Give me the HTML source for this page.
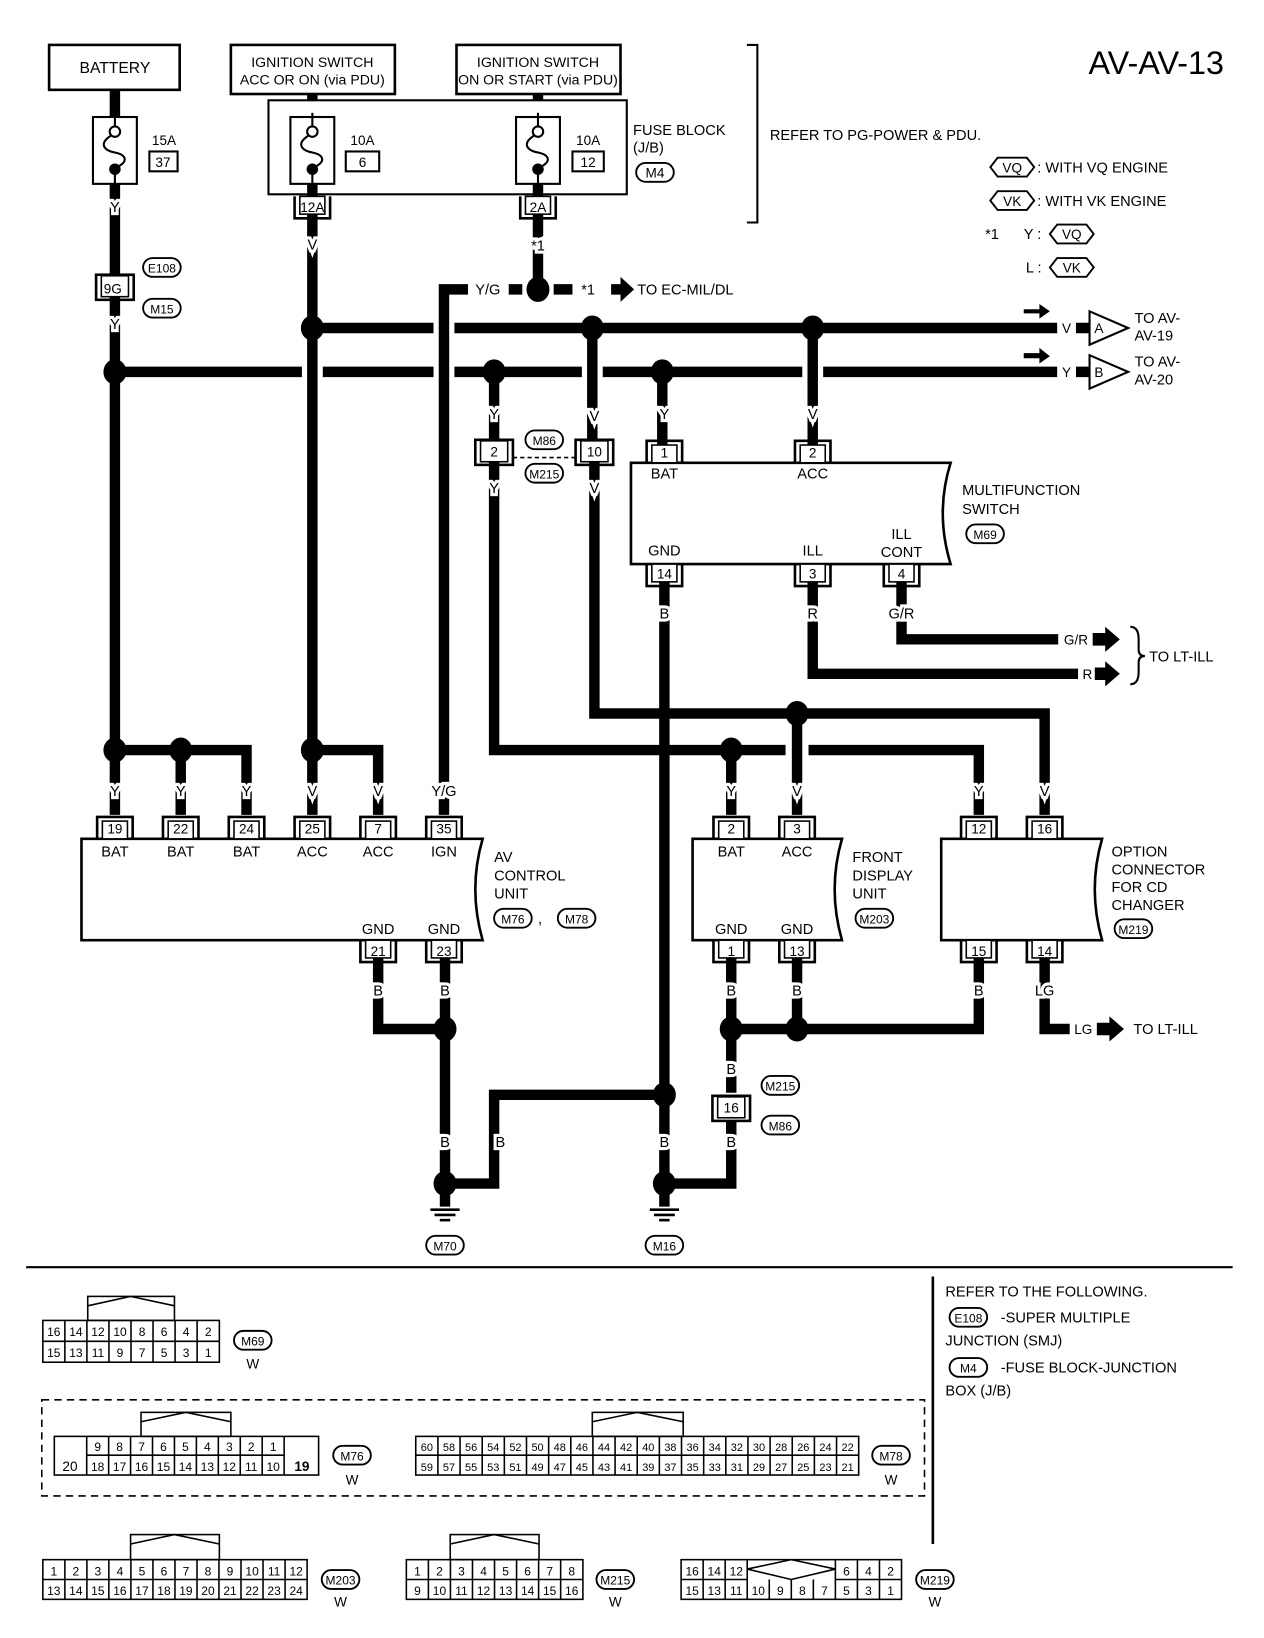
<!DOCTYPE html>
<html><head><meta charset="utf-8"><style>
html,body{margin:0;padding:0;background:#fff;}
svg{display:block;}
text{font-family:"Liberation Sans",sans-serif;fill:#000;}
.l{font-size:14px;text-anchor:middle;stroke:#fff;stroke-width:6px;paint-order:stroke;}
.t{font-size:14px;}
.n{font-size:13px;text-anchor:middle;}
.c{font-size:11.5px;text-anchor:middle;}
.w{stroke:#000;stroke-width:10;fill:none;}
.thin{stroke:#000;stroke-width:2;fill:none;}
</style></head><body>
<svg width="1264" height="1638" viewBox="0 0 1210 1568" preserveAspectRatio="none" xmlns="http://www.w3.org/2000/svg">
<defs>
<g id="ct"><path d="M-17,0V-21H17V0" fill="none" stroke="#000" stroke-width="2.5"/><rect x="-12" y="-17" width="24" height="17" fill="#fff" stroke="#000" stroke-width="1.5"/></g>
<g id="cb"><path d="M-17,0V21H17V0" fill="none" stroke="#000" stroke-width="2.5"/><rect x="-12" y="0" width="24" height="17" fill="#fff" stroke="#000" stroke-width="1.5"/></g>
<g id="cbox"><rect x="-18" y="-11" width="36" height="24" fill="none" stroke="#000" stroke-width="2.5"/><rect x="-13" y="-10" width="26" height="20" fill="#fff" stroke="#000" stroke-width="1.5"/></g>
<g id="ov"><rect x="-18" y="-9" width="36" height="18" rx="9" fill="#fff" stroke="#000" stroke-width="1.8"/></g>
<g id="hx"><polygon points="-21,0 -14,-9 14,-9 21,0 14,9 -14,9" fill="#fff" stroke="#000" stroke-width="1.8"/></g>
<g id="dot"><ellipse rx="11" ry="12" fill="#000"/></g>
<g id="fuse"><rect x="-21" y="0" width="42" height="64" fill="#fff" stroke="#000" stroke-width="2"/><line x1="0" y1="-4" x2="0" y2="10" stroke="#000" stroke-width="2"/><line x1="0" y1="54" x2="0" y2="68" stroke="#000" stroke-width="2"/><circle cx="0" cy="14" r="5" fill="#fff" stroke="#000" stroke-width="2"/><circle cx="0" cy="50" r="5.5" fill="#000"/><path d="M-4,18 C-16,26 -10,32 0,34 C10,36 14,42 2,48" fill="none" stroke="#000" stroke-width="2"/></g>
<g id="gnd"><line x1="-14" y1="0" x2="14" y2="0" stroke="#000" stroke-width="2.5"/><line x1="-10" y1="5" x2="10" y2="5" stroke="#000" stroke-width="2.5"/><line x1="-5" y1="10" x2="5" y2="10" stroke="#000" stroke-width="2.5"/></g>
</defs>

<text x="1042" y="71" style="font-size:31px">AV-AV-13</text>

<rect x="47" y="43" width="125" height="43" fill="#fff" stroke="#000" stroke-width="2.5"/>
<text x="110" y="70" class="n" style="font-size:15px">BATTERY</text>
<rect x="221" y="43" width="157" height="47" fill="#fff" stroke="#000" stroke-width="2.5"/>
<text x="299" y="64" class="n" style="font-size:13.5px">IGNITION SWITCH</text>
<text x="299" y="81" class="n" style="font-size:13.5px">ACC OR ON (via PDU)</text>
<rect x="437" y="43" width="157" height="47" fill="#fff" stroke="#000" stroke-width="2.5"/>
<text x="515" y="64" class="n" style="font-size:13.5px">IGNITION SWITCH</text>
<text x="515" y="81" class="n" style="font-size:13.5px">ON OR START (via PDU)</text>

<rect x="257" y="96" width="343" height="90" fill="none" stroke="#000" stroke-width="2"/>
<path class="w" d="M110,86V112M299,90V96M515,90V96"/>
<use href="#fuse" x="110" y="112"/>
<use href="#fuse" x="299" y="112"/>
<use href="#fuse" x="515" y="112"/>
<text x="157" y="139" class="n">15A</text><rect x="143" y="145" width="27" height="19" fill="none" stroke="#000" stroke-width="2"/><text x="156" y="160" class="n">37</text>
<text x="347" y="139" class="n">10A</text><rect x="331" y="145" width="32" height="19" fill="none" stroke="#000" stroke-width="2"/><text x="347" y="160" class="n">6</text>
<text x="563" y="139" class="n">10A</text><rect x="548" y="145" width="30" height="19" fill="none" stroke="#000" stroke-width="2"/><text x="563" y="160" class="n">12</text>
<text x="606" y="129" class="t">FUSE BLOCK</text>
<text x="606" y="146" class="t">(J/B)</text>
<use href="#ov" x="627" y="165"/><text x="627" y="170" class="n">M4</text>
<path class="thin" d="M715,43H725V213H715"/>
<text x="737" y="134" class="t">REFER TO PG-POWER &amp; PDU.</text>

<use href="#hx" x="969" y="160"/><text x="969" y="165" class="n">VQ</text><text x="993" y="165" class="t">: WITH VQ ENGINE</text>
<use href="#hx" x="969" y="192"/><text x="969" y="197" class="n">VK</text><text x="993" y="197" class="t">: WITH VK ENGINE</text>
<text x="943" y="229" class="t">*1</text><text x="980" y="229" class="t">Y :</text><use href="#hx" x="1026" y="224"/><text x="1026" y="229" class="n">VQ</text>
<text x="982" y="261" class="t">L :</text><use href="#hx" x="1026" y="256"/><text x="1026" y="261" class="n">VK</text>

<path class="w" d="M110,176V356M110,356V780M299,176V718M299,718V780M515,176V277"/>
<path class="w" d="M110,718H236V780M299,718H362V780"/>
<path class="w" d="M173,718V780"/>
<path class="w" d="M425,780V277H448M487,277H500M530,277H548"/>
<path class="w" d="M299,314H415M435,314H1012M1030,314H1045"/>
<path class="w" d="M120,356H289M309,356H415M435,356H557M577,356H768M788,356H1012M1030,356H1045"/>
<path class="w" d="M567,314V422M569,442V683H1000V780M763,683V780"/>
<path class="w" d="M473,356V422M473,442V718H752M774,718H937V780M700,718V780"/>
<path class="w" d="M634,356V443M778,314V443"/>
<path class="w" d="M636,540V1133M778,540V645H1032M863,540V612H1013"/>
<path class="w" d="M362,900V985H425M426,900V1155"/>
<path class="w" d="M426,1133H473V1048H636M636,1133H700V1073M700,1046V985M700,900V985H937V900M763,900V985"/>
<path class="w" d="M636,1133V1155M1000,900V985H1024"/>

<use href="#cb" x="299" y="188"/><text x="299" y="203" class="n">12A</text>
<use href="#cb" x="515" y="188"/><text x="515" y="203" class="n">2A</text>
<use href="#cbox" x="110" y="274"/><text x="108" y="281" class="n">9G</text>
<use href="#ov" x="155" y="256"/><text x="155" y="261" class="c">E108</text>
<use href="#ov" x="155" y="295"/><text x="155" y="300" class="c">M15</text>

<text x="110" y="203" class="l">Y</text>
<text x="110" y="315" class="l">Y</text>
<text x="299" y="239" class="l">V</text>
<text x="515" y="240" class="l">*1</text>
<text x="467" y="282" class="t" style="text-anchor:middle">Y/G</text>
<text x="563" y="282" class="n" style="font-size:14px">*1</text>
<polygon points="585,272 594,272 594,265 607,277 594,289 594,282 585,282"/>
<text x="610" y="282" class="t">TO EC-MIL/DL</text>
<use href="#dot" x="515" y="277"/>
<use href="#dot" x="299" y="314"/><use href="#dot" x="567" y="314"/><use href="#dot" x="778" y="314"/>
<use href="#dot" x="110" y="356"/><use href="#dot" x="473" y="356"/><use href="#dot" x="634" y="356"/>

<polygon points="980,296 995,296 995,291 1005,298 995,305 995,300 980,300"/>
<polygon points="980,338 995,338 995,333 1005,341 995,348 995,343 980,343"/>
<text x="1021" y="319" class="n">V</text><text x="1021" y="361" class="n">Y</text>
<polygon points="1043,298 1043,330 1080,314" fill="#fff" stroke="#000" stroke-width="2"/><text x="1052" y="319" class="n">A</text>
<polygon points="1043,340 1043,372 1080,356" fill="#fff" stroke="#000" stroke-width="2"/><text x="1052" y="361" class="n">B</text>
<text x="1086" y="309" class="t">TO AV-</text><text x="1086" y="326" class="t">AV-19</text>
<text x="1086" y="351" class="t">TO AV-</text><text x="1086" y="368" class="t">AV-20</text>

<text x="473" y="401" class="l">Y</text><text x="569" y="403" class="l">V</text>
<text x="636" y="401" class="l">Y</text><text x="778" y="401" class="l">V</text>
<use href="#cbox" x="473" y="432"/><text x="473" y="437" class="n">2</text>
<use href="#cbox" x="569" y="432"/><text x="569" y="437" class="n">10</text>
<path d="M491,438H551" stroke="#000" stroke-width="1.5" stroke-dasharray="4,3"/>
<use href="#ov" x="521" y="421"/><text x="521" y="426" class="c">M86</text>
<use href="#ov" x="521" y="453"/><text x="521" y="458" class="c">M215</text>
<text x="473" y="472" class="l">Y</text><text x="569" y="472" class="l">V</text>

<path d="M604,443H910Q895,491 910,540H604Z" fill="#fff" stroke="#000" stroke-width="2.5"/>
<use href="#ct" x="636" y="443"/><text x="636" y="438" class="n">1</text>
<use href="#ct" x="778" y="443"/><text x="778" y="438" class="n">2</text>
<text x="636" y="458" class="n" style="font-size:14px">BAT</text><text x="778" y="458" class="n" style="font-size:14px">ACC</text>
<text x="921" y="474" class="t">MULTIFUNCTION</text><text x="921" y="492" class="t">SWITCH</text>
<use href="#ov" x="943" y="511"/><text x="943" y="516" class="c">M69</text>
<text x="636" y="532" class="n" style="font-size:14px">GND</text><text x="778" y="532" class="n" style="font-size:14px">ILL</text>
<text x="863" y="516" class="n" style="font-size:14px">ILL</text><text x="863" y="533" class="n" style="font-size:14px">CONT</text>
<use href="#cb" x="636" y="540"/><text x="636" y="554" class="n">14</text>
<use href="#cb" x="778" y="540"/><text x="778" y="554" class="n">3</text>
<use href="#cb" x="863" y="540"/><text x="863" y="554" class="n">4</text>
<text x="636" y="592" class="l">B</text><text x="778" y="592" class="l">R</text><text x="863" y="592" class="l">G/R</text>
<text x="1030" y="617" class="n">G/R</text><polygon points="1046,606 1058,606 1058,600 1072,612 1058,624 1058,618 1046,618"/>
<text x="1041" y="650" class="n">R</text><polygon points="1048,639 1058,639 1058,633 1072,645 1058,657 1058,651 1048,651"/>
<path class="thin" d="M1082,600Q1090,600 1090,612V622Q1090,628 1096,628Q1090,628 1090,634V643Q1090,655 1082,655"/>
<text x="1100" y="633" class="t">TO LT-ILL</text>

<use href="#dot" x="763" y="683"/>
<use href="#dot" x="110" y="718"/><use href="#dot" x="173" y="718"/><use href="#dot" x="299" y="718"/><use href="#dot" x="700" y="718"/>

<text x="110" y="762" class="l">Y</text><text x="173" y="762" class="l">Y</text><text x="236" y="762" class="l">Y</text>
<text x="299" y="762" class="l">V</text><text x="362" y="762" class="l">V</text><text x="425" y="762" class="l">Y/G</text>
<path d="M78,803H462Q448,851 462,900H78Z" fill="#fff" stroke="#000" stroke-width="2.5"/>
<use href="#ct" x="110" y="803"/><text x="110" y="798" class="n">19</text>
<use href="#ct" x="173" y="803"/><text x="173" y="798" class="n">22</text>
<use href="#ct" x="236" y="803"/><text x="236" y="798" class="n">24</text>
<use href="#ct" x="299" y="803"/><text x="299" y="798" class="n">25</text>
<use href="#ct" x="362" y="803"/><text x="362" y="798" class="n">7</text>
<use href="#ct" x="425" y="803"/><text x="425" y="798" class="n">35</text>
<text x="110" y="820" class="n" style="font-size:14px">BAT</text><text x="173" y="820" class="n" style="font-size:14px">BAT</text><text x="236" y="820" class="n" style="font-size:14px">BAT</text>
<text x="299" y="820" class="n" style="font-size:14px">ACC</text><text x="362" y="820" class="n" style="font-size:14px">ACC</text><text x="425" y="820" class="n" style="font-size:14px">IGN</text>
<text x="473" y="825" class="t">AV</text><text x="473" y="843" class="t">CONTROL</text><text x="473" y="860" class="t">UNIT</text>
<use href="#ov" x="491" y="879"/><text x="491" y="884" class="c">M76</text><text x="515" y="884" class="t">,</text>
<use href="#ov" x="552" y="879"/><text x="552" y="884" class="c">M78</text>
<text x="362" y="894" class="n" style="font-size:14px">GND</text><text x="425" y="894" class="n" style="font-size:14px">GND</text>
<use href="#cb" x="362" y="900"/><text x="362" y="915" class="n">21</text>
<use href="#cb" x="425" y="900"/><text x="425" y="915" class="n">23</text>
<text x="362" y="953" class="l">B</text><text x="426" y="953" class="l">B</text>

<text x="700" y="762" class="l">Y</text><text x="763" y="762" class="l">V</text>
<text x="937" y="762" class="l">Y</text><text x="1000" y="762" class="l">V</text>
<path d="M663,803H806Q792,851 806,900H663Z" fill="#fff" stroke="#000" stroke-width="2.5"/>
<use href="#ct" x="700" y="803"/><text x="700" y="798" class="n">2</text>
<use href="#ct" x="763" y="803"/><text x="763" y="798" class="n">3</text>
<text x="700" y="820" class="n" style="font-size:14px">BAT</text><text x="763" y="820" class="n" style="font-size:14px">ACC</text>
<text x="816" y="825" class="t">FRONT</text><text x="816" y="843" class="t">DISPLAY</text><text x="816" y="860" class="t">UNIT</text>
<use href="#ov" x="837" y="879"/><text x="837" y="884" class="c">M203</text>
<text x="700" y="894" class="n" style="font-size:14px">GND</text><text x="763" y="894" class="n" style="font-size:14px">GND</text>
<use href="#cb" x="700" y="900"/><text x="700" y="915" class="n">1</text>
<use href="#cb" x="763" y="900"/><text x="763" y="915" class="n">13</text>
<text x="700" y="953" class="l">B</text><text x="763" y="953" class="l">B</text>

<path d="M901,803H1055Q1041,851 1055,900H901Z" fill="#fff" stroke="#000" stroke-width="2.5"/>
<use href="#ct" x="937" y="803"/><text x="937" y="798" class="n">12</text>
<use href="#ct" x="1000" y="803"/><text x="1000" y="798" class="n">16</text>
<text x="1064" y="820" class="t">OPTION</text><text x="1064" y="837" class="t">CONNECTOR</text><text x="1064" y="854" class="t">FOR CD</text><text x="1064" y="871" class="t">CHANGER</text>
<use href="#ov" x="1085" y="889"/><text x="1085" y="894" class="c">M219</text>
<use href="#cb" x="937" y="900"/><text x="937" y="915" class="n">15</text>
<use href="#cb" x="1000" y="900"/><text x="1000" y="915" class="n">14</text>
<text x="937" y="953" class="l">B</text><text x="1000" y="953" class="l">LG</text>
<text x="1037" y="990" class="n">LG</text><polygon points="1050,979 1062,979 1062,973 1076,985 1062,997 1062,991 1050,991"/>
<text x="1085" y="990" class="t">TO LT-ILL</text>

<use href="#dot" x="426" y="985"/><use href="#dot" x="700" y="985"/><use href="#dot" x="763" y="985"/>
<use href="#dot" x="636" y="1048"/>
<text x="700" y="1028" class="l">B</text>
<use href="#cbox" x="700" y="1060"/><text x="700" y="1065" class="n">16</text>
<use href="#ov" x="747" y="1039"/><text x="747" y="1044" class="c">M215</text>
<use href="#ov" x="747" y="1077"/><text x="747" y="1082" class="c">M86</text>
<text x="426" y="1098" class="l">B</text><text x="479" y="1098" class="l">B</text>
<text x="636" y="1098" class="l">B</text><text x="700" y="1098" class="l">B</text>
<use href="#dot" x="426" y="1133"/><use href="#dot" x="636" y="1133"/>
<use href="#gnd" x="426" y="1158"/><use href="#gnd" x="636" y="1158"/>
<use href="#ov" x="426" y="1192"/><text x="426" y="1197" class="c">M70</text>
<use href="#ov" x="636" y="1192"/><text x="636" y="1197" class="c">M16</text>

<line x1="25" y1="1213" x2="1180" y2="1213" stroke="#000" stroke-width="2"/>
<line x1="893" y1="1222" x2="893" y2="1478" stroke="#000" stroke-width="2.5"/>
<text x="905" y="1241" class="t">REFER TO THE FOLLOWING.</text>
<use href="#ov" x="927" y="1261"/><text x="927" y="1266" class="c">E108</text><text x="958" y="1266" class="t">-SUPER MULTIPLE</text>
<text x="905" y="1288" class="t">JUNCTION (SMJ)</text>
<use href="#ov" x="927" y="1309"/><text x="927" y="1314" class="c">M4</text><text x="958" y="1314" class="t">-FUSE BLOCK-JUNCTION</text>
<text x="905" y="1336" class="t">BOX (J/B)</text>

<g fill="none" stroke="#000" stroke-width="1.5">
<rect x="84" y="1241" width="83" height="23"/><polyline points="84,1250 125,1241 167,1250"/>
<rect x="41" y="1264" width="169" height="40"/><path d="M41,1284H210M62.1,1264V1304M83.2,1264V1304M104.3,1264V1304M125.4,1264V1304M146.5,1264V1304M167.6,1264V1304M188.7,1264V1304"/>
<rect x="40" y="1340" width="845" height="92" stroke-dasharray="7,5"/>
<rect x="135" y="1352" width="86" height="23"/><polyline points="135,1361 178,1352 221,1361"/>
<rect x="52" y="1375" width="253" height="37"/><path d="M83,1375V1412M272,1375V1412M83,1393H272M104,1375V1412M125,1375V1412M146,1375V1412M167,1375V1412M188,1375V1412M209,1375V1412M230,1375V1412M251,1375V1412"/>
<rect x="567" y="1352" width="87" height="23"/><polyline points="567,1361 610,1352 654,1361"/>
<rect x="398" y="1375" width="424" height="37"/><path d="M398,1393H822M419.2,1375V1412M440.4,1375V1412M461.6,1375V1412M482.8,1375V1412M504,1375V1412M525.2,1375V1412M546.4,1375V1412M567.6,1375V1412M588.8,1375V1412M610,1375V1412M631.2,1375V1412M652.4,1375V1412M673.6,1375V1412M694.8,1375V1412M716,1375V1412M737.2,1375V1412M758.4,1375V1412M779.6,1375V1412M800.8,1375V1412"/>
<rect x="125" y="1469" width="85" height="24"/><polyline points="125,1478 167,1469 210,1478"/>
<rect x="41" y="1493" width="253" height="38"/><path d="M41,1512H294M62.1,1493V1531M83.2,1493V1531M104.2,1493V1531M125.3,1493V1531M146.4,1493V1531M167.5,1493V1531M188.6,1493V1531M209.6,1493V1531M230.7,1493V1531M251.8,1493V1531M272.9,1493V1531"/>
<rect x="431" y="1469" width="85" height="24"/><polyline points="431,1478 473,1469 516,1478"/>
<rect x="389" y="1493" width="169" height="38"/><path d="M389,1512H558M410.1,1493V1531M431.2,1493V1531M452.3,1493V1531M473.4,1493V1531M494.5,1493V1531M515.6,1493V1531M536.7,1493V1531"/>
<rect x="652" y="1493" width="211" height="38"/><path d="M652,1512H715.3M799.7,1512H863M673.1,1493V1531M694.2,1493V1531M715.3,1493V1531M799.7,1493V1531M820.8,1493V1531M841.9,1493V1531M736.4,1512V1531M757.5,1512V1531M778.6,1512V1531"/>
<polygon points="715.3,1502 757.5,1493 799.7,1502 757.5,1512"/>
</g>

<g class="c">
<text x="51.5" y="1279">16</text><text x="72.7" y="1279">14</text><text x="93.8" y="1279">12</text><text x="114.9" y="1279">10</text><text x="136" y="1279">8</text><text x="157.1" y="1279">6</text><text x="178.2" y="1279">4</text><text x="199.3" y="1279">2</text>
<text x="51.5" y="1299">15</text><text x="72.7" y="1299">13</text><text x="93.8" y="1299">11</text><text x="114.9" y="1299">9</text><text x="136" y="1299">7</text><text x="157.1" y="1299">5</text><text x="178.2" y="1299">3</text><text x="199.3" y="1299">1</text>
</g>
<use href="#ov" x="242" y="1283"/><text x="242" y="1288" class="c">M69</text><text x="242" y="1310" class="n">W</text>

<g class="c">
<text x="67" y="1408" style="font-size:13px">20</text><text x="289" y="1408" style="font-size:13px;font-weight:bold">19</text>
<text x="93.5" y="1389">9</text><text x="114.5" y="1389">8</text><text x="135.5" y="1389">7</text><text x="156.5" y="1389">6</text><text x="177.5" y="1389">5</text><text x="198.5" y="1389">4</text><text x="219.5" y="1389">3</text><text x="240.5" y="1389">2</text><text x="261.5" y="1389">1</text>
<text x="93.5" y="1408">18</text><text x="114.5" y="1408">17</text><text x="135.5" y="1408">16</text><text x="156.5" y="1408">15</text><text x="177.5" y="1408">14</text><text x="198.5" y="1408">13</text><text x="219.5" y="1408">12</text><text x="240.5" y="1408">11</text><text x="261.5" y="1408">10</text>
</g>
<use href="#ov" x="337" y="1393"/><text x="337" y="1398" class="c">M76</text><text x="337" y="1421" class="n">W</text>

<g class="c" style="font-size:10.5px">
<text x="408.6" y="1389">60</text><text x="429.8" y="1389">58</text><text x="451" y="1389">56</text><text x="472.2" y="1389">54</text><text x="493.4" y="1389">52</text><text x="514.6" y="1389">50</text><text x="535.8" y="1389">48</text><text x="557" y="1389">46</text><text x="578.2" y="1389">44</text><text x="599.4" y="1389">42</text><text x="620.6" y="1389">40</text><text x="641.8" y="1389">38</text><text x="663" y="1389">36</text><text x="684.2" y="1389">34</text><text x="705.4" y="1389">32</text><text x="726.6" y="1389">30</text><text x="747.8" y="1389">28</text><text x="769" y="1389">26</text><text x="790.2" y="1389">24</text><text x="811.4" y="1389">22</text>
<text x="408.6" y="1408">59</text><text x="429.8" y="1408">57</text><text x="451" y="1408">55</text><text x="472.2" y="1408">53</text><text x="493.4" y="1408">51</text><text x="514.6" y="1408">49</text><text x="535.8" y="1408">47</text><text x="557" y="1408">45</text><text x="578.2" y="1408">43</text><text x="599.4" y="1408">41</text><text x="620.6" y="1408">39</text><text x="641.8" y="1408">37</text><text x="663" y="1408">35</text><text x="684.2" y="1408">33</text><text x="705.4" y="1408">31</text><text x="726.6" y="1408">29</text><text x="747.8" y="1408">27</text><text x="769" y="1408">25</text><text x="790.2" y="1408">23</text><text x="811.4" y="1408">21</text>
</g>
<use href="#ov" x="853" y="1393"/><text x="853" y="1398" class="c">M78</text><text x="853" y="1421" class="n">W</text>

<g class="c">
<text x="51.5" y="1508">1</text><text x="72.6" y="1508">2</text><text x="93.7" y="1508">3</text><text x="114.8" y="1508">4</text><text x="135.9" y="1508">5</text><text x="157" y="1508">6</text><text x="178" y="1508">7</text><text x="199.1" y="1508">8</text><text x="220.2" y="1508">9</text><text x="241.3" y="1508">10</text><text x="262.4" y="1508">11</text><text x="283.5" y="1508">12</text>
<text x="51.5" y="1527">13</text><text x="72.6" y="1527">14</text><text x="93.7" y="1527">15</text><text x="114.8" y="1527">16</text><text x="135.9" y="1527">17</text><text x="157" y="1527">18</text><text x="178" y="1527">19</text><text x="199.1" y="1527">20</text><text x="220.2" y="1527">21</text><text x="241.3" y="1527">22</text><text x="262.4" y="1527">23</text><text x="283.5" y="1527">24</text>
</g>
<use href="#ov" x="326" y="1512"/><text x="326" y="1517" class="c">M203</text><text x="326" y="1538" class="n">W</text>

<g class="c">
<text x="399.6" y="1508">1</text><text x="420.7" y="1508">2</text><text x="441.8" y="1508">3</text><text x="462.9" y="1508">4</text><text x="484" y="1508">5</text><text x="505.1" y="1508">6</text><text x="526.2" y="1508">7</text><text x="547.3" y="1508">8</text>
<text x="399.6" y="1527">9</text><text x="420.7" y="1527">10</text><text x="441.8" y="1527">11</text><text x="462.9" y="1527">12</text><text x="484" y="1527">13</text><text x="505.1" y="1527">14</text><text x="526.2" y="1527">15</text><text x="547.3" y="1527">16</text>
</g>
<use href="#ov" x="589" y="1512"/><text x="589" y="1517" class="c">M215</text><text x="589" y="1538" class="n">W</text>

<g class="c">
<text x="662.6" y="1508">16</text><text x="683.7" y="1508">14</text><text x="704.8" y="1508">12</text><text x="810.3" y="1508">6</text><text x="831.4" y="1508">4</text><text x="852.5" y="1508">2</text>
<text x="662.6" y="1527">15</text><text x="683.7" y="1527">13</text><text x="704.8" y="1527">11</text><text x="725.9" y="1527">10</text><text x="747" y="1527">9</text><text x="768.1" y="1527">8</text><text x="789.2" y="1527">7</text><text x="810.3" y="1527">5</text><text x="831.4" y="1527">3</text><text x="852.5" y="1527">1</text>
</g>
<use href="#ov" x="895" y="1512"/><text x="895" y="1517" class="c">M219</text><text x="895" y="1538" class="n">W</text>
</svg>
</body></html>
